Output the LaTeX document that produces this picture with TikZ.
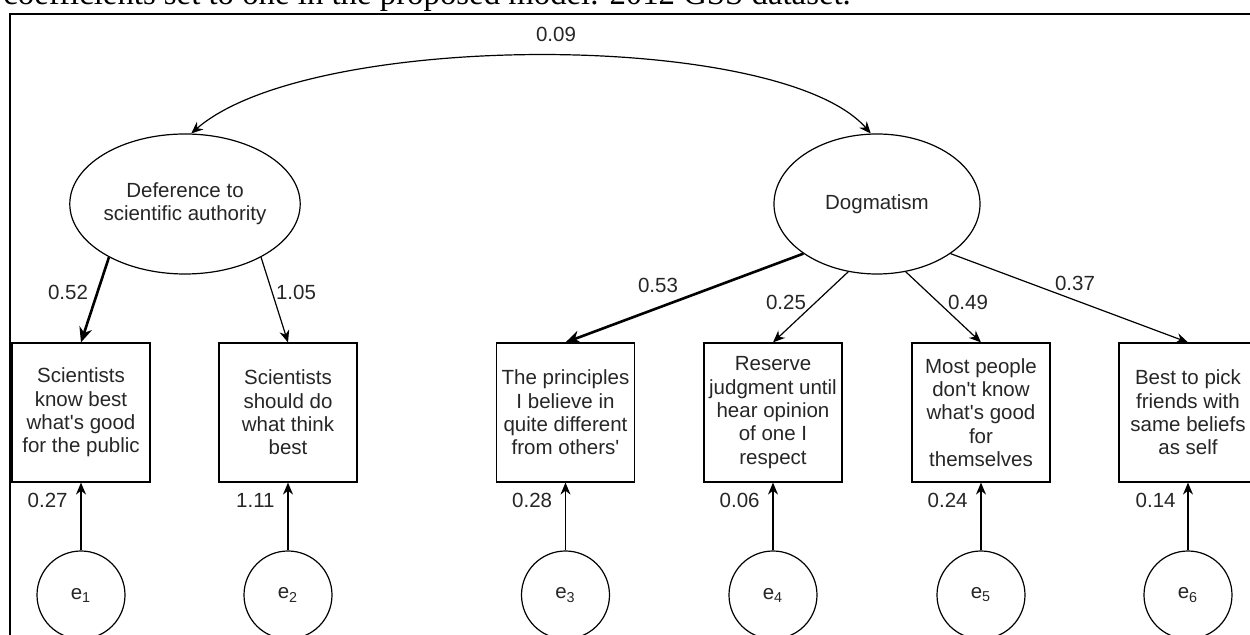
\documentclass[tikz,border=0pt]{standalone}
\usepackage{fontspec}
\setmainfont{Liberation Sans}
\newfontfamily\capfont{Liberation Serif}
\usetikzlibrary{arrows.meta,shapes.geometric}
\newcommand\lblfont{\fontsize{10.25pt}{11.65pt}\selectfont}
\newcommand\apos{\textquotesingle}
\tikzset{
  lat/.style={draw, line width=0.6pt, ellipse, minimum width=103pt, minimum height=70pt, inner sep=0pt, align=center, font=\lblfont, text=black!85},
  obs/.style={draw, line width=0.6pt, rectangle, minimum width=69pt, minimum height=69.5pt, inner sep=0pt, align=center, font=\lblfont, text=black!85},
  err/.style={draw, line width=0.6pt, circle, minimum size=44pt, inner sep=0pt, font=\lblfont, text=black!85},
  coef/.style={font=\lblfont, inner sep=0pt, text=black!85},
  lineA/.style={-{Stealth[length=6pt,width=5pt]}, line width=0.6pt},
  lineB/.style={-{Stealth[length=7.5pt,width=6.5pt]}, line width=1.3pt},
}
\begin{document}
\begin{tikzpicture}[x=0.5pt,y=-0.5pt]
\useasboundingbox (0,0) rectangle (1250,635);
% caption (cut at top) and frame
\node[anchor=base west, font=\capfont\fontsize{16.4pt}{19pt}\selectfont, inner sep=0pt] (cap) at (3,5) {coefficients set to one in the proposed model. 2012 GSS dataset.};
\draw[line width=1.2pt] (10,14) rectangle (1300,700);

% latent variables
\node[lat] (L1) at (185,204) {Deference to\\scientific authority};
\node[lat] (L2) at (877,204) {Dogmatism};

% observed indicators
\node[obs] (B1) at (81,412.5) {Scientists\\know best\\what\apos s good\\for the public};
\node[obs] (B2) at (288,412.5) {Scientists\\should do\\what think\\best};
\node[obs] (B3) at (565.5,412.5) {The principles\\I believe in\\quite different\\from others\apos};
\node[obs] (B4) at (773,412.5) {Reserve\\judgment until\\hear opinion\\of one I\\respect};
\node[obs] (B5) at (981,412.5) {Most people\\don\apos t know\\what\apos s good\\for\\themselves};
\node[obs] (B6) at (1188,412.5) {Best to pick\\friends with\\same beliefs\\as self};

% error terms
\node[err] (E1) at (81,595) {e\textsubscript{1}};
\node[err] (E2) at (288,595) {e\textsubscript{2}};
\node[err] (E3) at (565.5,595) {e\textsubscript{3}};
\node[err] (E4) at (773,595) {e\textsubscript{4}};
\node[err] (E5) at (981,595) {e\textsubscript{5}};
\node[err] (E6) at (1188,595) {e\textsubscript{6}};

% covariance
\draw[lineA, {Stealth[length=6pt,width=5pt]}-{Stealth[length=6pt,width=5pt]}] (L1.85) .. controls (310,30) and (780,30) .. (L2.95);
\node[coef] (c09) at (556,34) {0.09};

% loadings
\draw[lineB] (L1.215) -- (B1.north);
\draw[lineA] (L1.325) -- (B2.north);
\draw[lineB] (L2.214) -- (B3.north);
\draw[lineA] (L2.247) -- (B4.north);
\draw[lineA] (L2.293) -- (B5.north);
\draw[lineA] (L2.326) -- (B6.north);
\node[coef] (c52) at (68,292) {0.52};
\node[coef] (c105) at (296,292) {1.05};
\node[coef] (c53) at (658,285) {0.53};
\node[coef] (c25) at (786,302) {0.25};
\node[coef] (c49) at (968,302) {0.49};
\node[coef] (c37) at (1075,283) {0.37};

% error paths
\foreach \i in {1,...,6} { \draw[lineA] (E\i.north) -- (B\i.south); }
\node[coef, anchor=east] (v1) at (68,500) {0.27};
\node[coef, anchor=east] (v2) at (275,500) {1.11};
\node[coef, anchor=east] (v3) at (552.5,500) {0.28};
\node[coef, anchor=east] (v4) at (760,500) {0.06};
\node[coef, anchor=east] (v5) at (968,500) {0.24};
\node[coef, anchor=east] (v6) at (1176,500) {0.14};
\end{tikzpicture}
\end{document}
